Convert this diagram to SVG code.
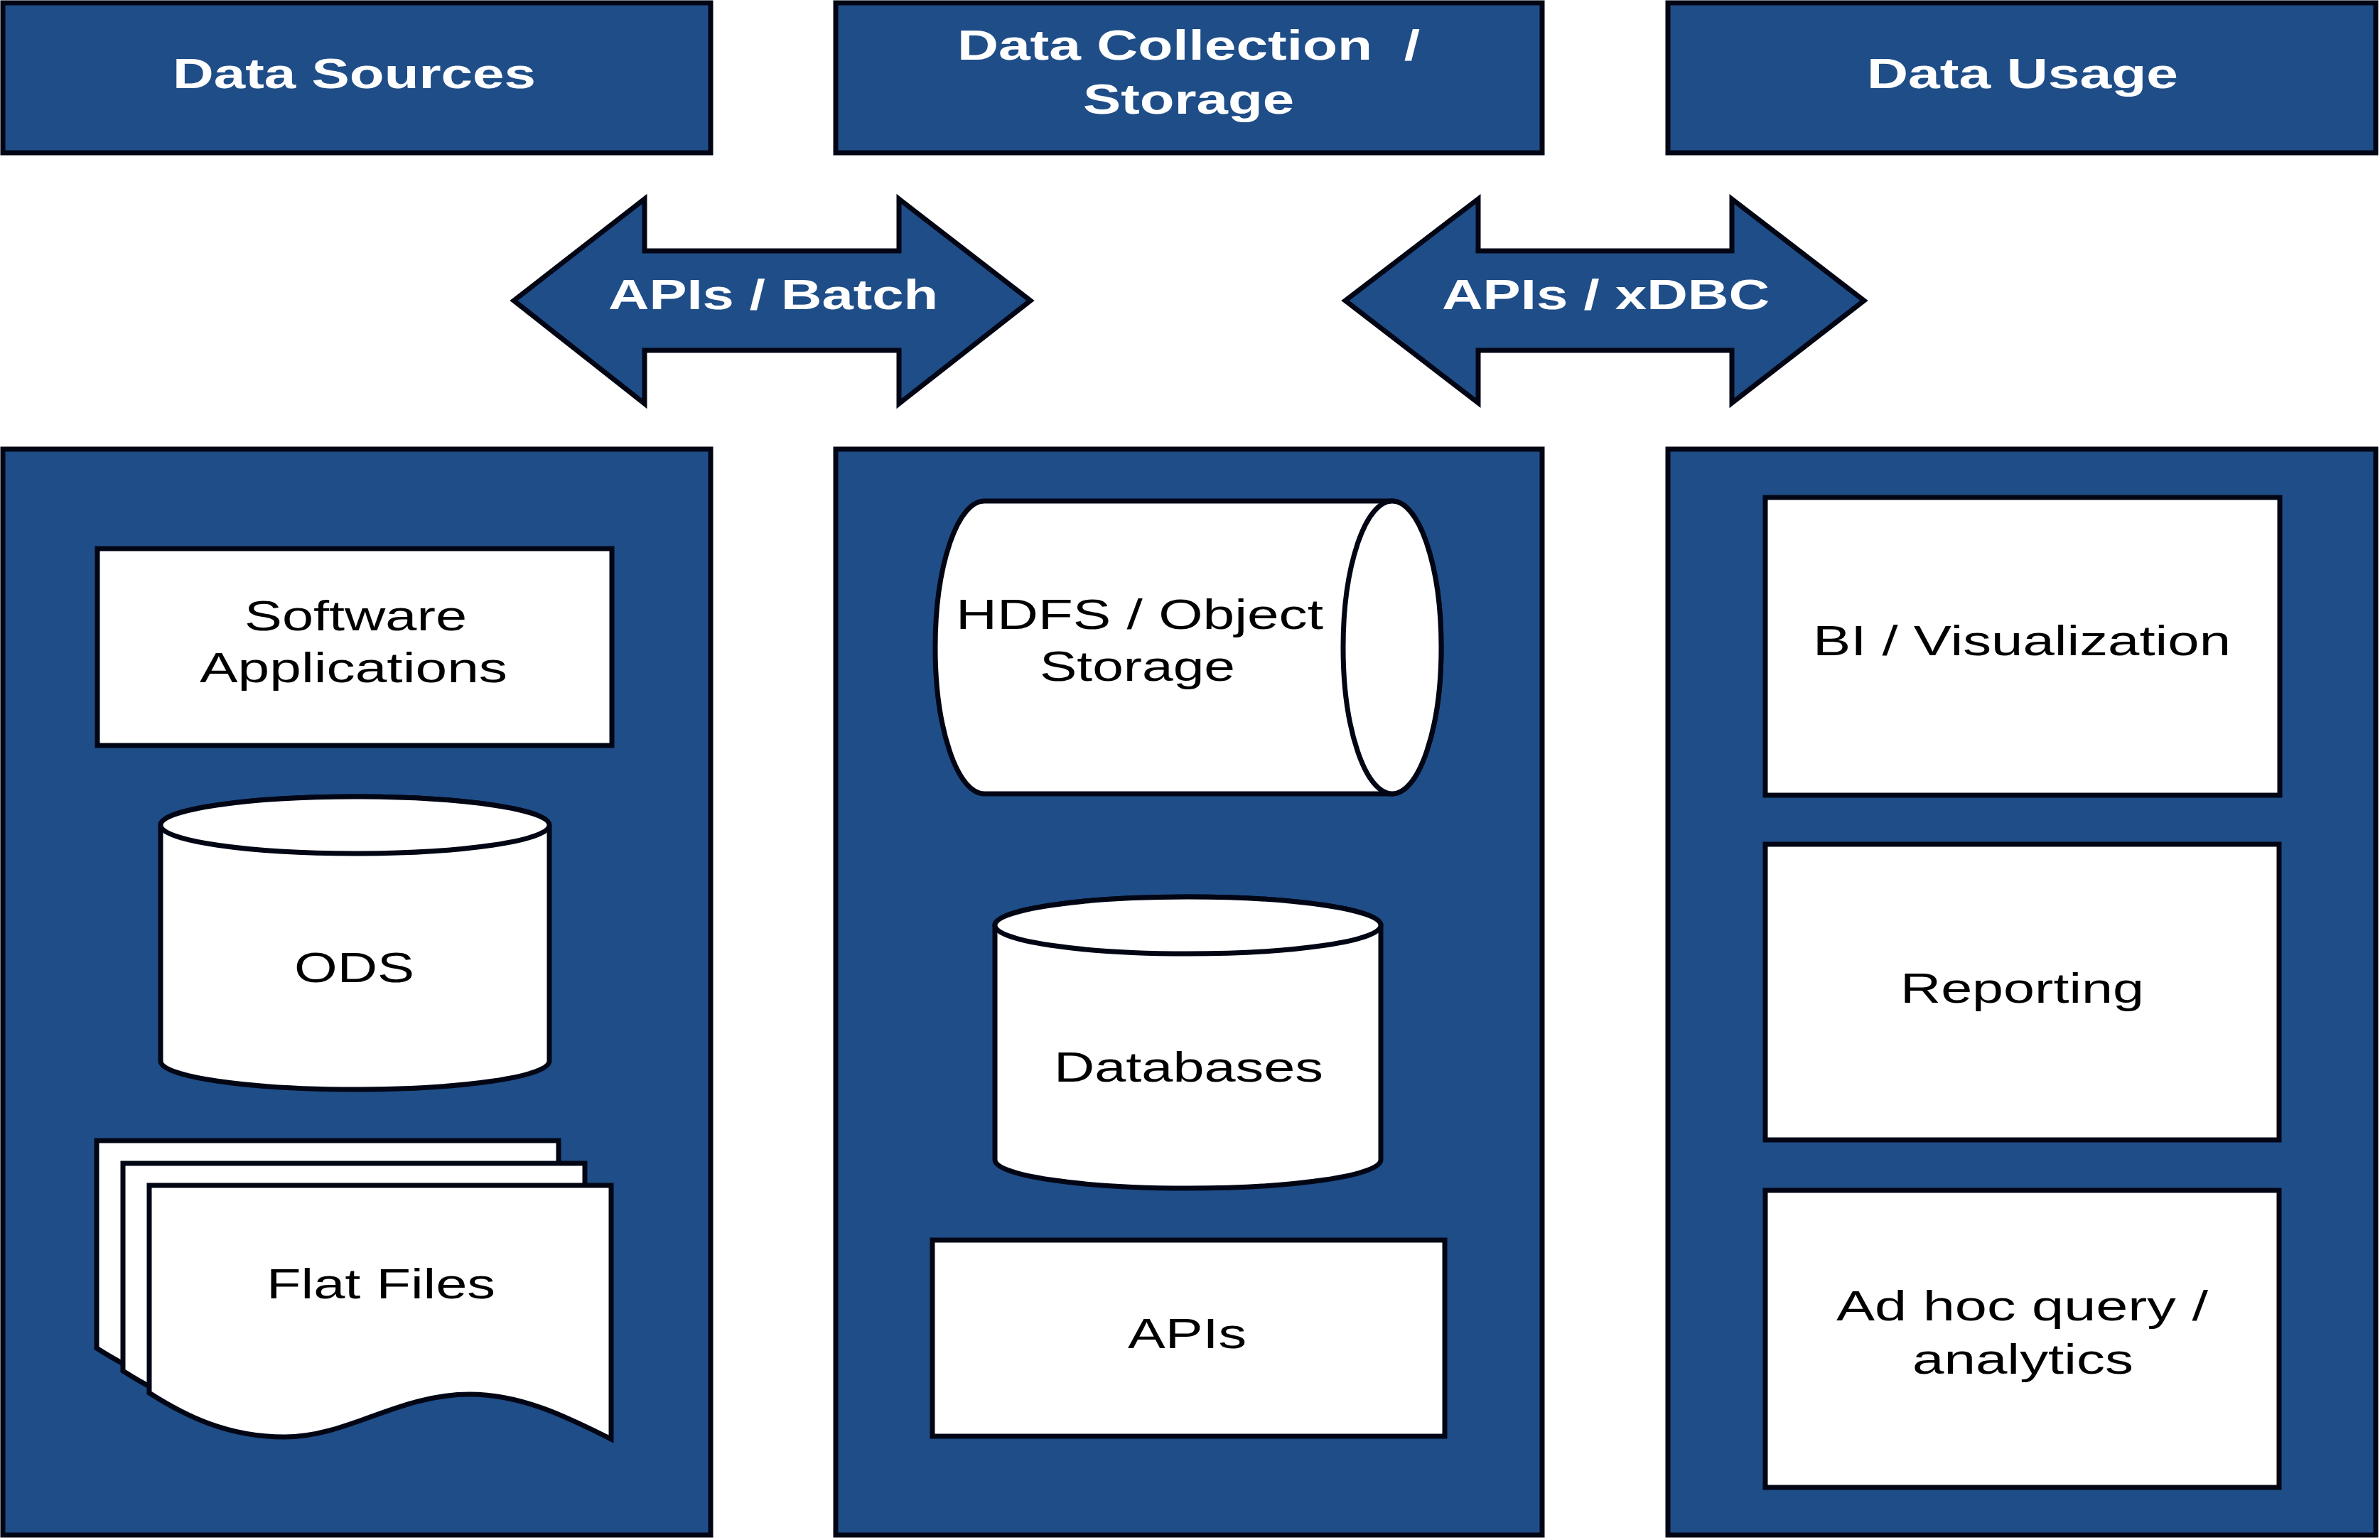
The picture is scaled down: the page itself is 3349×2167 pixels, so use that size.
<svg xmlns="http://www.w3.org/2000/svg" width="3349" height="2167" viewBox="0 0 3349 2167">
<style>
.blue{fill:#1f4d87;stroke:#020614;stroke-width:7;stroke-linejoin:miter}
.wht{fill:#ffffff;stroke:#020614;stroke-width:7}
.hd{font-family:"Liberation Sans",Arial,sans-serif;font-weight:bold;font-size:60px;fill:#ffffff;white-space:pre}
.bd{font-family:"Liberation Sans",Arial,sans-serif;font-size:60px;fill:#000000;white-space:pre}
</style>
<defs>
<path id="doc" d="M210,1668 L860,1668 L860,2025 C800,1995 735,1962 661,1962 C560,1962 490,2022 400,2022 C320,2022 260,1992 210,1960 Z"/>
</defs>
<rect width="3349" height="2167" fill="#ffffff"/>

<g id="hdr-sources">
<rect class="blue" x="4" y="4" width="996" height="211"/>
<text class="hd" x="243" y="124" textLength="511" lengthAdjust="spacingAndGlyphs">Data Sources</text>
</g>
<g id="hdr-collection">
<rect class="blue" x="1176" y="4" width="994" height="211"/>
<text class="hd" x="1347" y="84" textLength="651" lengthAdjust="spacingAndGlyphs">Data Collection  /</text>
<text class="hd" x="1524" y="160" textLength="297" lengthAdjust="spacingAndGlyphs">Storage</text>
</g>
<g id="hdr-usage">
<rect class="blue" x="2347" y="4" width="996" height="211"/>
<text class="hd" x="2627" y="124" textLength="438" lengthAdjust="spacingAndGlyphs">Data Usage</text>
</g>

<g id="connectors">
<g id="arrow-batch">
<path class="blue" d="M723,423 L907,280 L907,353 L1265,353 L1265,280 L1450,423 L1265,568 L1265,493 L907,493 L907,568 Z"/>
<text class="hd" x="856" y="435" textLength="464" lengthAdjust="spacingAndGlyphs">APIs / Batch</text>
</g>
<g id="arrow-xdbc">
<path class="blue" d="M1893,423 L2080,280 L2080,353 L2437,353 L2437,280 L2623,423 L2437,567 L2437,493 L2080,493 L2080,567 Z"/>
<text class="hd" x="2029" y="435" textLength="461" lengthAdjust="spacingAndGlyphs">APIs / xDBC</text>
</g>
</g>

<g id="panel-sources">
<rect class="blue" x="4" y="632" width="996" height="1528"/>
</g>
<g id="panel-collection">
<rect class="blue" x="1176" y="632" width="994" height="1528"/>
</g>
<g id="panel-usage">
<rect class="blue" x="2347" y="632" width="996" height="1528"/>
</g>

<g id="software-apps">
<rect class="wht" x="137" y="772" width="724" height="277"/>
<text class="bd" x="344" y="887" textLength="313" lengthAdjust="spacingAndGlyphs">Software</text>
<text class="bd" x="281" y="960" textLength="433" lengthAdjust="spacingAndGlyphs">Applications</text>
</g>
<g id="ods">
<path class="wht" d="M226,1161 A273.5,40 0 0 1 773,1161 L773,1493 A273.5,40 0 0 1 226,1493 Z"/>
<ellipse class="wht" cx="499.5" cy="1161" rx="273.5" ry="40"/>
<text class="bd" x="414" y="1382" textLength="169" lengthAdjust="spacingAndGlyphs">ODS</text>
</g>
<g id="flat-files">
<use href="#doc" class="wht" transform="translate(-74,-63)"/>
<use href="#doc" class="wht" transform="translate(-37,-31)"/>
<use href="#doc" class="wht"/>
<text class="bd" x="375" y="1827" textLength="322" lengthAdjust="spacingAndGlyphs">Flat Files</text>
</g>

<g id="hdfs">
<path class="wht" d="M1385,705 L1959,705 A69,206 0 0 1 1959,1117 L1385,1117 A69,206 0 0 1 1385,705 Z"/>
<ellipse class="wht" cx="1959" cy="911" rx="69" ry="206"/>
<text class="bd" x="1345" y="885" textLength="517" lengthAdjust="spacingAndGlyphs">HDFS / Object</text>
<text class="bd" x="1463" y="958" textLength="275" lengthAdjust="spacingAndGlyphs">Storage</text>
</g>
<g id="databases">
<path class="wht" d="M1400,1302 A271.5,40 0 0 1 1943,1302 L1943,1632 A271.5,40 0 0 1 1400,1632 Z"/>
<ellipse class="wht" cx="1671.5" cy="1302" rx="271.5" ry="40"/>
<text class="bd" x="1483" y="1522" textLength="379" lengthAdjust="spacingAndGlyphs">Databases</text>
</g>
<g id="apis">
<rect class="wht" x="1312" y="1745" width="721" height="276"/>
<text class="bd" x="1587" y="1897" textLength="167" lengthAdjust="spacingAndGlyphs">APIs</text>
</g>

<g id="bi-visualization">
<rect class="wht" x="2484" y="700" width="724" height="419"/>
<text class="bd" x="2551" y="922" textLength="588" lengthAdjust="spacingAndGlyphs">BI / Visualization</text>
</g>
<g id="reporting">
<rect class="wht" x="2484" y="1188" width="723" height="416"/>
<text class="bd" x="2674" y="1411" textLength="343" lengthAdjust="spacingAndGlyphs">Reporting</text>
</g>
<g id="adhoc">
<rect class="wht" x="2484" y="1675" width="723" height="418"/>
<text class="bd" x="2584" y="1858" textLength="523" lengthAdjust="spacingAndGlyphs">Ad hoc query /</text>
<text class="bd" x="2691" y="1933" textLength="311" lengthAdjust="spacingAndGlyphs">analytics</text>
</g>
</svg>
